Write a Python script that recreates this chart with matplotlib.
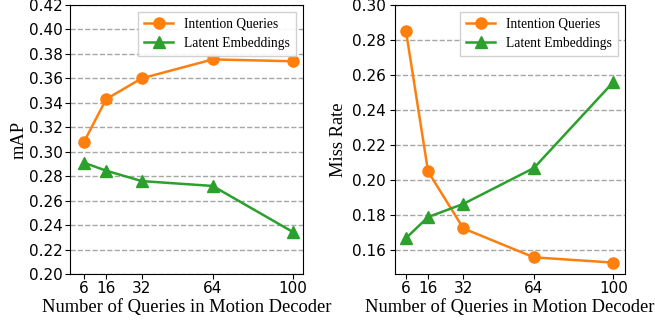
import matplotlib

matplotlib.use("Agg")
import matplotlib.pyplot as plt

queries = [6, 16, 32, 64, 100]
map_intention = [0.308, 0.343, 0.360, 0.3755, 0.374]
map_latent = [0.291, 0.2845, 0.276, 0.272, 0.2345]
mr_intention = [0.285, 0.205, 0.1725, 0.156, 0.153]
mr_latent = [0.167, 0.179, 0.1865, 0.207, 0.256]

ORANGE = "#ff7f0e"
GREEN = "#2ca02c"
SERIF = "Liberation Serif"

fig = plt.figure(figsize=(6.55, 3.25), dpi=100)
ax1 = fig.add_axes([70 / 655, 51 / 325, 233 / 655, 269 / 325])
ax2 = fig.add_axes([395 / 655, 51 / 325, 230 / 655, 269 / 325])


def draw(ax, y_int, y_lat, ylabel, ylim, xlim, yticks, ypad, lpad):
    ax.plot(queries, y_int, "-o", color=ORANGE, lw=1.8, ms=8, label="Intention Queries")
    ax.plot(queries, y_lat, "-^", color=GREEN, lw=1.8, ms=8, label="Latent Embeddings")
    ax.set_xticks(queries)
    ax.set_yticks(yticks)
    ax.set_yticklabels([f"{t:.2f}" for t in yticks])
    ax.set_ylim(*ylim)
    ax.set_xlim(*xlim)
    ax.yaxis.grid(True, ls="--", color="gray", alpha=0.7, lw=1)
    ax.set_axisbelow(True)
    ax.tick_params(labelsize=11, pad=1.8)
    ax.tick_params(axis="y", pad=ypad)
    ax.set_xlabel("Number of Queries in Motion Decoder", family=SERIF, fontsize=13.3, labelpad=2)
    ax.set_ylabel(ylabel, family=SERIF, fontsize=13.3, labelpad=lpad)
    ax.legend(loc="upper right", prop={"family": SERIF, "size": 9.75}, fancybox=False,
              framealpha=0.9, borderpad=0.45, handlelength=2.2, labelspacing=0.45)


draw(ax1, map_intention, map_latent, "mAP", (0.20, 0.42), (-0.3, 104.7),
     [0.20 + 0.02 * i for i in range(12)], 1.8, 0.5)
draw(ax2, mr_intention, mr_latent, "Miss Rate", (0.1465, 0.30), (1.0, 105.3),
     [0.16 + 0.02 * i for i in range(8)], 3.0, 3.5)

fig.savefig("out.png", dpi=100)
